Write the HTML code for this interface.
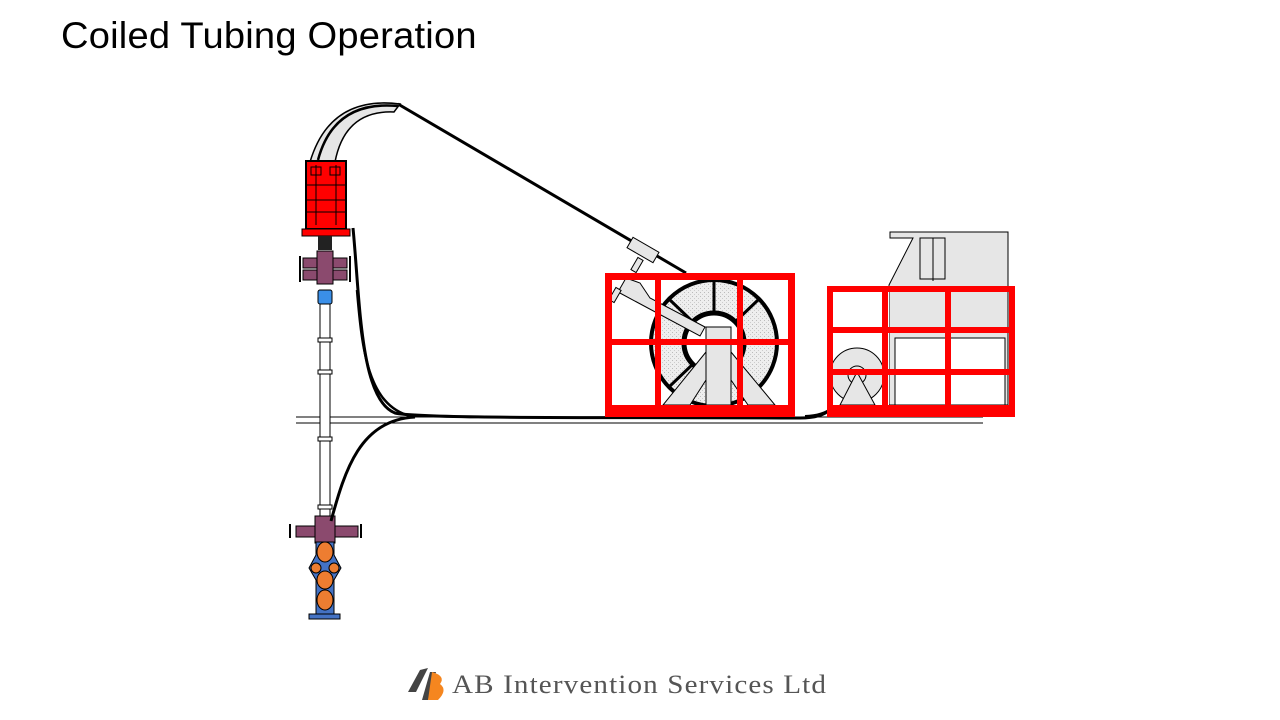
<!DOCTYPE html>
<html><head><meta charset="utf-8"><style>
body{margin:0;background:#fff;width:1280px;height:720px;overflow:hidden;position:relative;font-family:"Liberation Sans",sans-serif}
h1{position:absolute;left:61px;top:15px;margin:0;font-weight:normal;font-size:37px;color:#000;letter-spacing:0.2px;transform:scaleX(1.03);transform-origin:left}
.logo{position:absolute;left:452px;top:670px;font-family:"Liberation Serif",serif;font-size:26px;color:#555;letter-spacing:1px;transform:scaleX(1.12);transform-origin:left;white-space:nowrap}
</style></head><body>
<h1>Coiled Tubing Operation</h1>
<svg width="1280" height="720" style="position:absolute;left:0;top:0">
<defs><pattern id="dots" width="4" height="4" patternUnits="userSpaceOnUse"><rect width="4" height="4" fill="#eee"/><rect width="1" height="1" fill="#bbb"/><rect x="2" y="2" width="1" height="1" fill="#ccc"/></pattern></defs>
<line x1="296" y1="417" x2="983" y2="417" stroke="#000" stroke-width="1"/>
<line x1="296" y1="423" x2="983" y2="423" stroke="#000" stroke-width="1"/>
<line x1="398" y1="104" x2="686" y2="273" stroke="#000" stroke-width="3"/>
<path d="M310,162 Q330,95 400,104 L394,112 Q345,110 335,162 Z" fill="#e6e6e6" stroke="#000" stroke-width="1.5"/>
<path d="M318,160 Q334,100 398,106" fill="none" stroke="#000" stroke-width="2.5"/>
<rect x="320" y="290" width="10" height="232" fill="#fff" stroke="#000"/>
<g fill="#fff" stroke="#000"><rect x="318" y="338" width="14" height="4"/><rect x="318" y="370" width="14" height="4"/><rect x="318" y="437" width="14" height="4"/><rect x="318" y="505" width="14" height="4"/></g>
<rect x="306" y="161" width="40" height="68" fill="#f00" stroke="#000" stroke-width="2"/>
<g stroke="#000" stroke-width="1" fill="none"><line x1="306" y1="185" x2="346" y2="185"/><line x1="306" y1="200" x2="346" y2="200"/><line x1="306" y1="212" x2="346" y2="212"/><line x1="316" y1="165" x2="316" y2="225"/><line x1="336" y1="165" x2="336" y2="225"/><rect x="311" y="167" width="10" height="8"/><rect x="330" y="167" width="10" height="8"/></g>
<rect x="302" y="229" width="48" height="7" fill="#f00" stroke="#000"/>
<rect x="318" y="236" width="14" height="14" fill="#222"/>
<g fill="#8b4a6e" stroke="#000"><rect x="303" y="258" width="44" height="10"/><rect x="303" y="270" width="44" height="10"/><rect x="317" y="251" width="16" height="33"/></g>
<g stroke="#000" stroke-width="2"><line x1="300" y1="256" x2="300" y2="270"/><line x1="350" y1="256" x2="350" y2="270"/><line x1="300" y1="268" x2="300" y2="282"/><line x1="350" y1="268" x2="350" y2="282"/></g>
<rect x="318" y="290" width="14" height="14" rx="2" fill="#3a8fe8" stroke="#000"/>
<rect x="296" y="526" width="62" height="11" fill="#8b4a6e" stroke="#000"/>
<rect x="315" y="516" width="20" height="27" fill="#8b4a6e" stroke="#000"/>
<line x1="290" y1="524" x2="290" y2="538" stroke="#000" stroke-width="2"/><line x1="361" y1="524" x2="361" y2="538" stroke="#000" stroke-width="2"/>
<polygon points="316,542 334,542 334,555 341,568 334,580 334,614 316,614 316,580 309,568 316,555" fill="#4472c4" stroke="#000"/>
<g fill="#ed7d31" stroke="#000"><ellipse cx="325" cy="552" rx="8" ry="10"/><ellipse cx="316" cy="568" rx="5" ry="5"/><ellipse cx="334" cy="568" rx="5" ry="5"/><ellipse cx="325" cy="580" rx="8" ry="9"/><ellipse cx="325" cy="600" rx="8" ry="10"/></g>
<rect x="309" y="614" width="31" height="5" fill="#4472c4" stroke="#000"/>
<path d="M353,228 C360,300 360,400 395,413 C420,419 600,417 800,418 C832,418 836,405 836,388" fill="none" stroke="#000" stroke-width="3"/>
<path d="M357,290 C362,350 368,405 410,416" fill="none" stroke="#000" stroke-width="2.5"/>
<path d="M331,521 C345,470 360,420 415,417" fill="none" stroke="#000" stroke-width="3"/>
<path d="M839,388 C839,405 830,415 805,416" fill="none" stroke="#000" stroke-width="2"/>
<circle cx="714" cy="343" r="63" fill="url(#dots)" stroke="#000" stroke-width="4"/>
<circle cx="714" cy="343" r="30" fill="#fff" stroke="#000" stroke-width="5"/>
<g stroke="#000" stroke-width="3"><line x1="714" y1="280" x2="714" y2="313"/><line x1="670" y1="300" x2="693" y2="322"/><line x1="758" y1="300" x2="735" y2="322"/><line x1="670" y1="386" x2="693" y2="364"/><line x1="758" y1="386" x2="735" y2="364"/></g>
<polygon points="706,352 663,405 690,405 706,380" fill="#e6e6e6" stroke="#000"/>
<polygon points="731,352 775,405 748,405 731,380" fill="#e6e6e6" stroke="#000"/>
<rect x="706" y="327" width="25" height="78" fill="#e6e6e6" stroke="#000"/>
<polygon points="626,278 640,283 650,298 705,327 700,336 618,292" fill="#e6e6e6" stroke="#000"/>
<rect x="612" y="288" width="6" height="14" fill="#e6e6e6" stroke="#000" transform="rotate(30 615 295)"/>
<rect x="634" y="258" width="6" height="14" fill="#e6e6e6" stroke="#000" transform="rotate(30 637 265)"/>
<rect x="628" y="244" width="30" height="12" fill="#e6e6e6" stroke="#000" transform="rotate(30 643 250)"/>
<g fill="#f00">
<rect x="605" y="273" width="190" height="7"/><rect x="605" y="339" width="190" height="6"/><rect x="605" y="405" width="190" height="12"/>
<rect x="605" y="273" width="7" height="144"/><rect x="655" y="279" width="6" height="130"/><rect x="737" y="279" width="6" height="130"/><rect x="788" y="273" width="7" height="144"/>
</g>
<polygon points="890,232 1008,232 1008,405 889,405 889,285 913,238 890,238" fill="#e6e6e6" stroke="#000"/>
<rect x="920" y="238" width="25" height="41" fill="#e6e6e6" stroke="#000"/>
<line x1="933" y1="238" x2="933" y2="281" stroke="#000"/>
<rect x="833" y="292" width="56" height="113" fill="#fff"/>
<rect x="895" y="338" width="110" height="67" fill="#fff" stroke="#000"/>
<circle cx="857" cy="375" r="27" fill="#e6e6e6" stroke="#000"/>
<circle cx="857" cy="375" r="9" fill="#e6e6e6" stroke="#000"/>
<polygon points="857,372 840,405 875,405" fill="#e6e6e6" stroke="#000"/>
<g fill="#f00">
<rect x="827" y="286" width="188" height="6"/><rect x="833" y="327" width="176" height="6"/><rect x="833" y="369" width="176" height="6"/><rect x="827" y="405" width="188" height="12"/>
<rect x="827" y="286" width="6" height="131"/><rect x="882" y="292" width="6" height="115"/><rect x="945" y="292" width="6" height="115"/><rect x="1009" y="286" width="6" height="131"/>
</g>
<path d="M420,670 L428,668 L416,692 L408,692 Z M430,672 L436,672 L428,700 L422,700 Z" fill="#444"/>
<path d="M432,672 Q446,676 440,684 Q448,690 438,700 L428,700 Z" fill="#f5861f"/>
</svg>
<div class="logo">AB Intervention Services Ltd</div>
</body></html>
